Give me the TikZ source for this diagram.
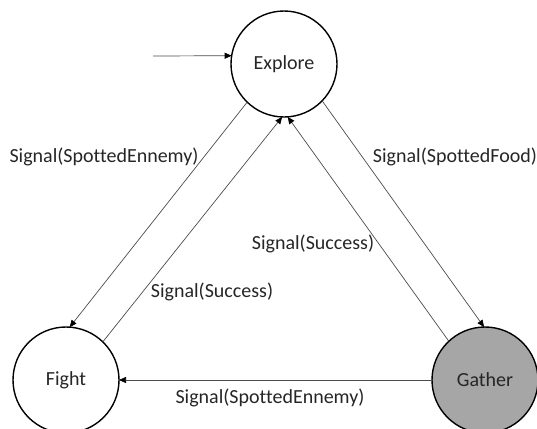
\documentclass[tikz,border=0pt]{standalone}
\usepackage{fontspec}
\setmainfont[Ligatures=NoCommon]{Carlito}
\usetikzlibrary{arrows.meta}
\begin{document}
\begin{tikzpicture}[x=1pt,y=-1pt,
  state/.style={circle,draw=black,line width=1.4pt,minimum size=106pt,inner sep=0pt,outer sep=0pt,
    font=\fontsize{20}{24}\selectfont,text=black!85},
  conn/.style={draw=black!70,line width=0.7pt,-{Triangle[length=7pt,width=6pt,fill=black,color=black]}},
  lbl/.style={font=\fontsize{20}{24}\selectfont,text=black!85,inner sep=0pt}]
\useasboundingbox (0,0) rectangle (537,428);
\clip (0,0) rectangle (537,428);
\node[state] (explore) at (284,64) {Explore};
\node[state] (fight) at (66,380) {Fight};
\node[state,fill=black!35] (gather) at (485,380) {Gather};
\coordinate (init) at (153,56);
\draw[conn] (init) -- (explore.171);
\draw[conn] (explore.226) -- (fight.86);
\draw[conn] (fight.46) -- (explore.268);
\draw[conn] (gather.133.5) -- (explore.274);
\draw[conn] (explore.316) -- (gather.91);
\draw[conn] (gather.west) -- (fight.east);
\node[lbl] (l1) at (104,157) {Signal(SpottedEnnemy)};
\node[lbl] (l2) at (455,157) {Signal(SpottedFood)};
\node[lbl] (l3) at (313,244) {Signal(Success)};
\node[lbl] (l4) at (212,292) {Signal(Success)};
\node[lbl] (l5) at (270,398) {Signal(SpottedEnnemy)};
\end{tikzpicture}
\end{document}
